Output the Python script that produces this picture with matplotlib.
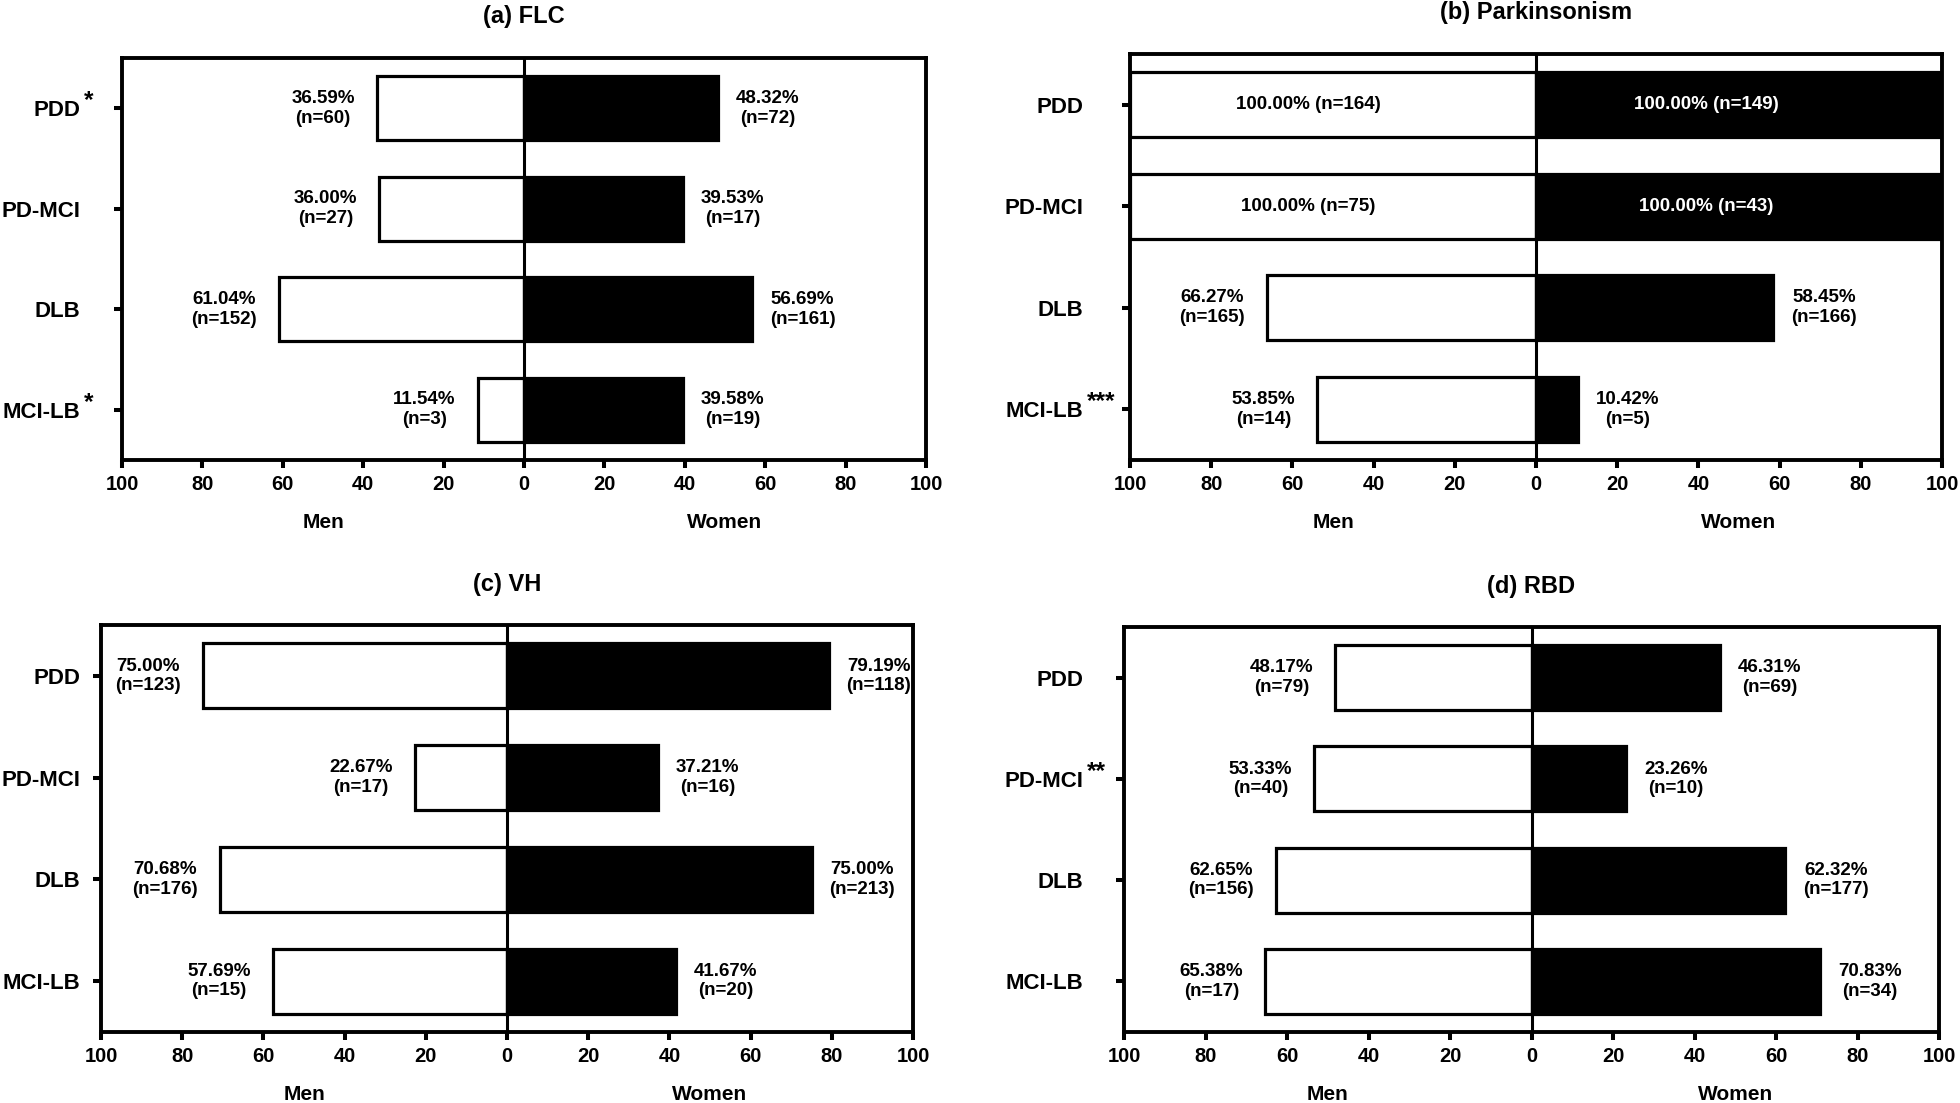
import matplotlib
matplotlib.use('Agg')
import matplotlib.pyplot as plt
import matplotlib.transforms as mtransforms

plt.rcParams['font.family'] = ['Liberation Sans', 'DejaVu Sans']
plt.rcParams['font.weight'] = 'bold'

# ---------------- data ----------------
categories = ['PDD', 'PD-MCI', 'DLB', 'MCI-LB']

flc_men_pct = [36.59, 36.00, 61.04, 11.54]
flc_men_n = [60, 27, 152, 3]
flc_women_pct = [48.32, 39.53, 56.69, 39.58]
flc_women_n = [72, 17, 161, 19]
flc_sig = ['*', '', '', '*']

park_men_pct = [100.00, 100.00, 66.27, 53.85]
park_men_n = [164, 75, 165, 14]
park_women_pct = [100.00, 100.00, 58.45, 10.42]
park_women_n = [149, 43, 166, 5]
park_sig = ['', '', '', '***']

vh_men_pct = [75.00, 22.67, 70.68, 57.69]
vh_men_n = [123, 17, 176, 15]
vh_women_pct = [79.19, 37.21, 75.00, 41.67]
vh_women_n = [118, 16, 213, 20]
vh_sig = ['', '', '', '']

rbd_men_pct = [48.17, 53.33, 62.65, 65.38]
rbd_men_n = [79, 40, 156, 17]
rbd_women_pct = [46.31, 23.26, 62.32, 70.83]
rbd_women_n = [69, 10, 177, 34]
rbd_sig = ['', '**', '', '']

panel_titles = ['(a) FLC', '(b) Parkinsonism', '(c) VH', '(d) RBD']
x_ticks = [-100, -80, -60, -40, -20, 0, 20, 40, 60, 80, 100]
x_tick_labels = ['100', '80', '60', '40', '20', '0', '20', '40', '60', '80', '100']
side_labels = ['Men', 'Women']

# ---------------- layout ----------------
W, H = 1960, 1103
fig = plt.figure(figsize=(W / 100, H / 100), dpi=100)


def px_axes(left, top, right, bottom):
    return [left / W, 1 - bottom / H, (right - left) / W, (bottom - top) / H]


PX = 0.72  # points per pixel at 100 dpi
TICK_LEN_PX = 8


def draw_panel(rect, title, men_pct, men_n, women_pct, women_n, sig, ylab_pad_px):
    ax = fig.add_axes(rect)
    ys = list(range(len(categories)))
    ax.barh(ys, [-v for v in men_pct], height=0.64, color='white',
            edgecolor='black', linewidth=2.3, zorder=2)
    ax.barh(ys, women_pct, height=0.64, color='black',
            edgecolor='black', linewidth=2.3, zorder=2)
    ax.axvline(0, color='black', lw=2.2, zorder=3)
    ax.set_xlim(-100, 100)
    ax.set_ylim(len(categories) - 0.5, -0.5)

    for s in ax.spines.values():
        s.set_linewidth(2.8)
        s.set_zorder(4)

    ax.set_yticks(ys)
    ax.set_yticklabels(categories)
    ax.set_xticks(x_ticks)
    ax.set_xticklabels(x_tick_labels)
    ax.tick_params(axis='y', length=TICK_LEN_PX * PX, width=2.9,
                   pad=ylab_pad_px * PX, labelsize=16)
    ax.tick_params(axis='x', length=TICK_LEN_PX * PX, width=2.9,
                   pad=5, labelsize=14.5)

    # significance stars
    blend = mtransforms.blended_transform_factory(ax.transAxes, ax.transData)
    for i, st in enumerate(sig):
        if st:
            ax.annotate(st, xy=(0, i), xycoords=blend,
                        xytext=(-(TICK_LEN_PX + ylab_pad_px) + 4, 1),
                        textcoords='offset pixels', ha='left', va='baseline',
                        fontsize=17.5, annotation_clip=False)

    # value labels
    for i in ys:
        m, mn = men_pct[i], men_n[i]
        w, wn = women_pct[i], women_n[i]
        if m >= 100:
            ax.text(-56, i, f"{m:.2f}% (n={mn})", ha='center', va='center',
                    fontsize=13.5, color='black', zorder=5)
        else:
            ax.annotate(f"{m:.2f}%\n(n={mn})", xy=(-m, i), xytext=(-22, 0),
                        textcoords='offset pixels', ha='right', va='center',
                        multialignment='center', fontsize=13.5, zorder=5)
        if w >= 100:
            ax.text(42, i, f"{w:.2f}% (n={wn})", ha='center', va='center',
                    fontsize=13.5, color='white', zorder=5)
        else:
            ax.annotate(f"{w:.2f}%\n(n={wn})", xy=(w, i), xytext=(18, 0),
                        textcoords='offset pixels', ha='left', va='center',
                        multialignment='center', fontsize=13.5, zorder=5)

    # Men / Women labels
    blend_x = mtransforms.blended_transform_factory(ax.transData, ax.transAxes)
    for xpos, lab in zip([-50, 50], side_labels):
        ax.annotate(lab, xy=(xpos, 0), xycoords=blend_x, xytext=(0, -63),
                    textcoords='offset pixels', ha='center', va='center',
                    fontsize=15, annotation_clip=False)

    # title
    ax.annotate(title, xy=(0.5, 1), xycoords='axes fraction', xytext=(0, 41),
                textcoords='offset pixels', ha='center', va='center',
                fontsize=17, annotation_clip=False)
    return ax


draw_panel(px_axes(122, 58, 926, 460), panel_titles[0],
           flc_men_pct, flc_men_n, flc_women_pct, flc_women_n, flc_sig, 34)
draw_panel(px_axes(1130, 54, 1942, 460), panel_titles[1],
           park_men_pct, park_men_n, park_women_pct, park_women_n, park_sig, 39)
draw_panel(px_axes(101, 625, 913, 1032), panel_titles[2],
           vh_men_pct, vh_men_n, vh_women_pct, vh_women_n, vh_sig, 13)
draw_panel(px_axes(1124, 627, 1939, 1032), panel_titles[3],
           rbd_men_pct, rbd_men_n, rbd_women_pct, rbd_women_n, rbd_sig, 33)

fig.savefig('out.png', dpi=100, facecolor='white')
